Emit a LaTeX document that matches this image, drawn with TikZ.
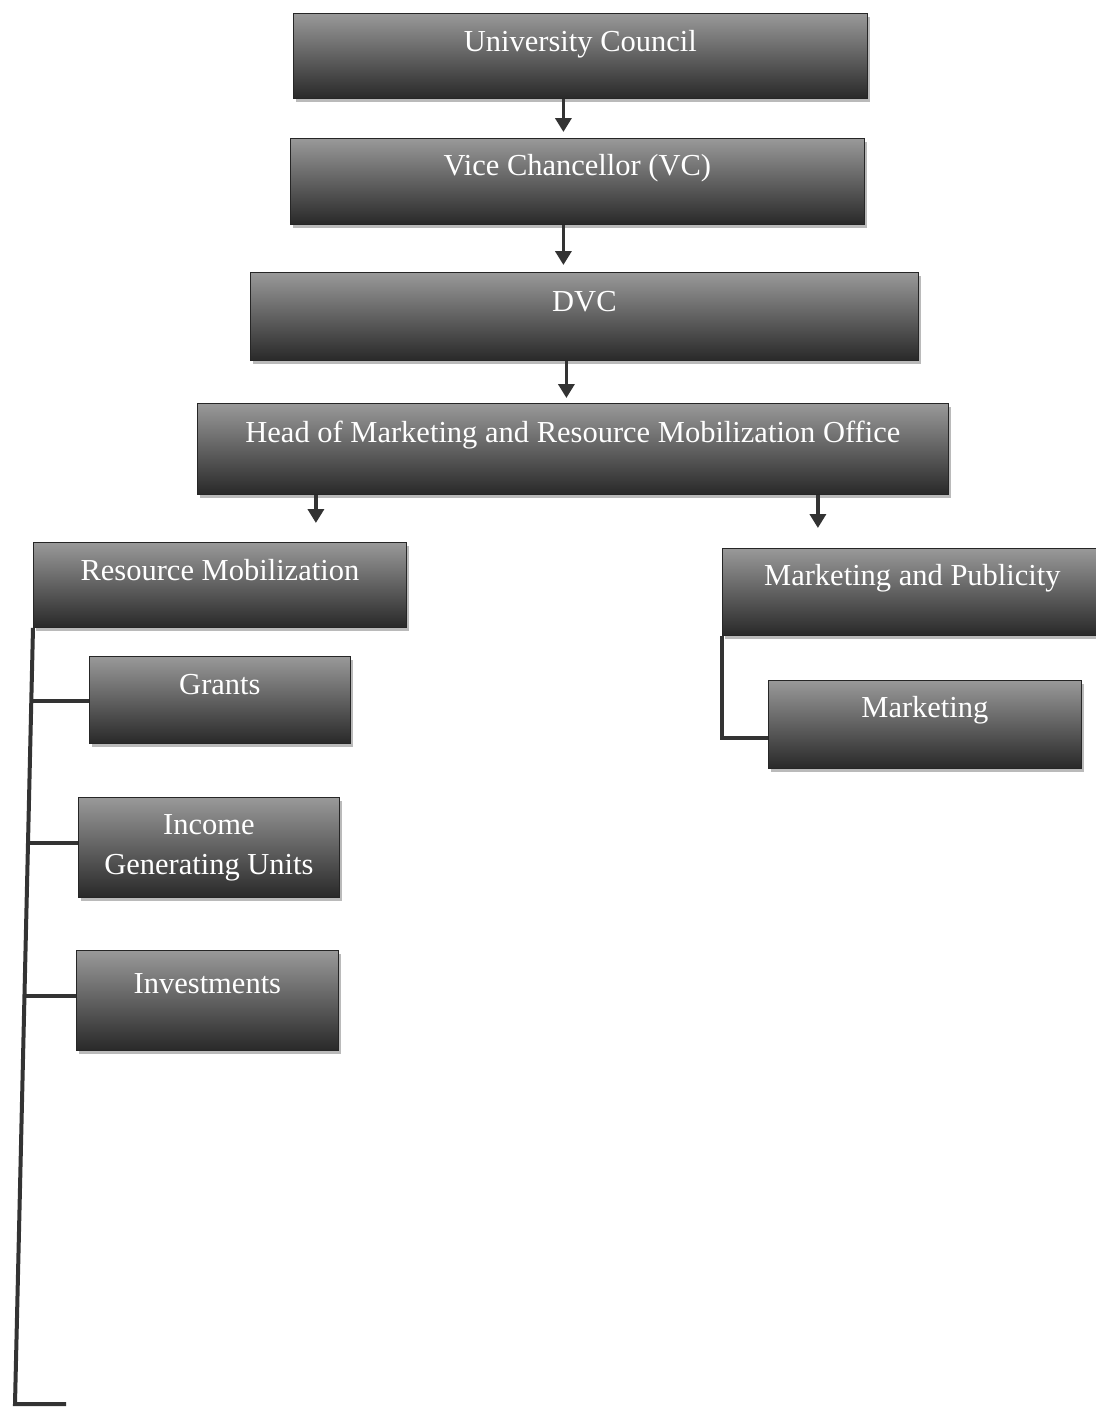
\documentclass[tikz,border=0pt]{standalone}
\usepackage{fontspec}
\setmainfont{Liberation Serif}
\usepackage{tikz}
\usetikzlibrary{arrows.meta,shadows,calc}

\tikzset{
  orgbox/.style={draw=black!85, line width=0.8pt, top color=black!40, bottom color=black!84,
    text=white, font=\fontsize{30.5}{40}\selectfont, inner sep=0pt, anchor=north west, align=center,
    drop shadow={shadow xshift=3pt, shadow yshift=-4pt, fill=black!45, opacity=0.6}},
  arr/.style={draw=black!80, line width=3.6pt, -{Triangle[width=16pt,length=14pt]}},
  link/.style={draw=black!80, line width=4pt},
}

\begin{document}
\begin{tikzpicture}[x=1pt,y=1pt]
  \useasboundingbox (0,0) rectangle (1095,-1408);
  \fill[white] (0,0) rectangle (1095,-1408);
  \node[orgbox, minimum width=574, minimum height=85, text height=38, text depth=47] (uc) at (293,-13) {University Council};
  \node[orgbox, minimum width=574, minimum height=86, text height=37, text depth=49] (vc) at (290,-138) {Vice Chancellor (VC)};
  \node[orgbox, minimum width=668, minimum height=88, text height=39, text depth=49] (dvc) at (250,-272) {DVC};
  \node[orgbox, minimum width=751, minimum height=91, text height=39, text depth=52] (head) at (197,-403) {Head of Marketing and Resource Mobilization Office};
  \node[orgbox, minimum width=373, minimum height=85, text height=38, text depth=47] (rm) at (33,-542) {Resource Mobilization};
  \node[orgbox, minimum width=380, minimum height=87, text height=37, text depth=50] (mp) at (722,-548) {Marketing and Publicity};
  \node[orgbox, minimum width=261, minimum height=87, text height=38, text depth=49] (grants) at (89,-656) {Grants};
  \node[orgbox, minimum width=261, minimum height=100] (igu) at (78,-797) {Income\\Generating Units};
  \node[orgbox, minimum width=262, minimum height=100, text height=43, text depth=57] (inv) at (76,-950) {Investments};
  \node[orgbox, minimum width=313, minimum height=88, text height=37, text depth=51] (mkt) at (768,-680) {Marketing};
  \coordinate (a1) at ([xshift=-17pt]uc.south);
  \coordinate (a2) at ([xshift=-14pt]vc.south);
  \coordinate (a3) at ([xshift=-18pt]dvc.south);
  \coordinate (a4) at ([xshift=-257pt]head.south);
  \coordinate (a5) at ([xshift=245pt]head.south);
  \coordinate (bot) at (15,-1404);
  \coordinate (botend) at (66,-1404);
  \draw[arr] (a1) -- ($(vc.north -| a1)+(0,6)$);
  \draw[arr] (a2) -- ($(dvc.north -| a2)+(0,7)$);
  \draw[arr] (a3) -- ($(head.north -| a3)+(0,5)$);
  \draw[arr] (a4) -- ($(rm.north -| a4)+(0,19)$);
  \draw[arr] (a5) -- ($(mp.north -| a5)+(0,20)$);
  \draw[link] (rm.south west) -- coordinate[pos=0.094] (t1) coordinate[pos=0.277] (t2) coordinate[pos=0.474] (t3) (bot) -- (botend);
  \draw[link] (t1) -- (grants.west |- t1);
  \draw[link] (t2) -- (igu.west |- t2);
  \draw[link] (t3) -- (inv.west |- t3);
  \draw[link] (mp.south west) |- ([yshift=-14pt]mkt.west);
\end{tikzpicture}
\end{document}
